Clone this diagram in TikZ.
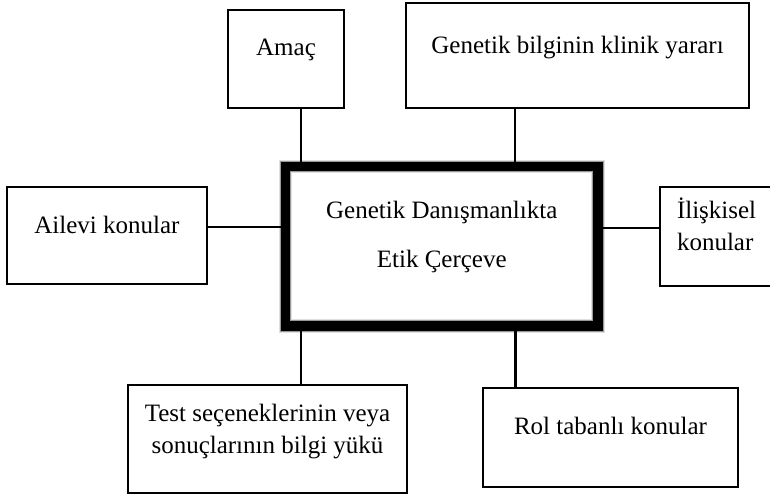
\documentclass[tikz,border=0pt]{standalone}
\usepackage{fontspec}
\setmainfont{Liberation Serif}
\newcommand{\yazi}{\fontsize{25}{32}\selectfont}
\tikzset{kutu/.style={draw, line width=2.2pt, inner sep=0pt, outer sep=0pt, anchor=north west, font=\yazi},
  merkezkutu/.style={kutu, line width=9.5pt, preaction={draw=black!12, line width=13.5pt}, preaction={draw=black!40, line width=11.5pt}},
  baglanti/.style={line width=2.2pt},}
\newcommand{\dikey}[3]{\path[draw, baglanti] (#1) ++(#3,0) coordinate (u) -- (u |- #2);}
\newcommand{\yatay}[3]{\path[draw, baglanti] (#1) ++(0,#3) coordinate (u) -- (u -| #2);}

\begin{document}
\begin{tikzpicture}[x=1pt, y=-1pt]
        \useasboundingbox (0,0) rectangle (770,495);
        \clip (0,0) rectangle (770,495);
        \fill[white] (0,0) rectangle (770,495);

        \node[merkezkutu, minimum width=312.5pt, text height=100.5pt, text depth=59pt, align=center] (merkez) at (285.5,166.5) {Genetik Danışmanlıkta\\[17pt]Etik Çerçeve};
        \node[kutu, minimum width=116pt, text height=46pt, text depth=52pt] (amac) at (228,10) {Amaç};
        \node[kutu, minimum width=343pt, text height=50pt, text depth=55pt] (yarar) at (406,3) {Genetik bilginin klinik yararı};
        \node[kutu, minimum width=200pt, text height=46pt, text depth=51pt] (ailevi) at (7,187) {Ailevi konular};
        \node[kutu, inner xsep=17pt, text width=91pt, align=left, text height=31pt, text depth=68pt] (iliskisel) at (660,187) {İlişkisel\\konular};
        \node[kutu, minimum width=279pt, text height=68pt, text depth=40pt, align=center] (test) at (128,385) {Test seçeneklerinin veya\\sonuçlarının bilgi yükü};
        \node[kutu, minimum width=255pt, text height=46pt, text depth=53pt] (rol) at (483,388) {Rol tabanlı konular};

        \dikey{amac.south}{merkez.north}{15}
        \dikey{yarar.south}{merkez.north}{-62.5}
        \yatay{ailevi.east}{merkez.west}{-8.5}
        \yatay{iliskisel.west}{merkez.east}{-8.5}
        \dikey{test.north}{merkez.south}{33.5}
        \dikey{rol.north}{merkez.south}{-95}
\end{tikzpicture}
\end{document}
